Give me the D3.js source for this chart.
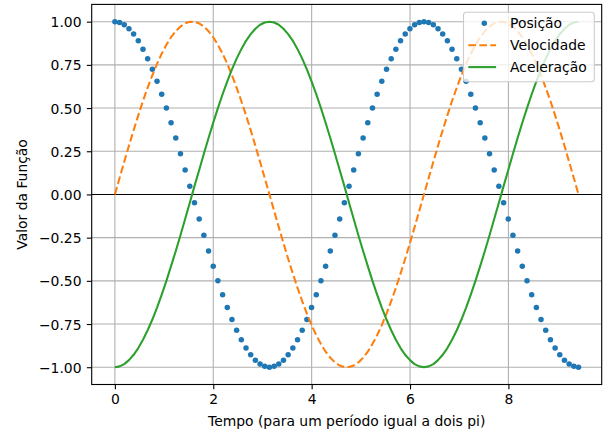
<!DOCTYPE html>
<html>
<head>
<meta charset="utf-8">
<script src="https://cdn.jsdelivr.net/npm/d3@7"></script>
<style>
  html, body { margin: 0; padding: 0; background: #fff; }
  svg { display: block; }
  text { font-family: "DejaVu Sans", sans-serif; fill: #000; }
</style>
</head>
<body>
<svg id="chart" width="610" height="432"></svg>
<script>
// Time samples over three half-periods (0 .. 3π), 100 points
const tempo = [
  0.000, 0.095, 0.190, 0.286, 0.381, 0.476, 0.571, 0.666, 0.762, 0.857,
  0.952, 1.047, 1.142, 1.238, 1.333, 1.428, 1.523, 1.618, 1.714, 1.809,
  1.904, 1.999, 2.094, 2.190, 2.285, 2.380, 2.475, 2.570, 2.666, 2.761,
  2.856, 2.951, 3.046, 3.142, 3.237, 3.332, 3.427, 3.522, 3.618, 3.713,
  3.808, 3.903, 3.998, 4.094, 4.189, 4.284, 4.379, 4.474, 4.570, 4.665,
  4.760, 4.855, 4.950, 5.046, 5.141, 5.236, 5.331, 5.426, 5.522, 5.617,
  5.712, 5.807, 5.902, 5.998, 6.093, 6.188, 6.283, 6.378, 6.474, 6.569,
  6.664, 6.759, 6.854, 6.950, 7.045, 7.140, 7.235, 7.330, 7.426, 7.521,
  7.616, 7.711, 7.806, 7.902, 7.997, 8.092, 8.187, 8.282, 8.378, 8.473,
  8.568, 8.663, 8.758, 8.854, 8.949, 9.044, 9.139, 9.234, 9.330, 9.425
];

// Position (drawn as dots)
const posicao = [
  1.000, 0.995, 0.982, 0.959, 0.928, 0.889, 0.841, 0.786, 0.724, 0.655,
  0.580, 0.500, 0.415, 0.327, 0.236, 0.142, 0.048, -0.048, -0.142, -0.236,
  -0.327, -0.415, -0.500, -0.580, -0.655, -0.724, -0.786, -0.841, -0.889, -0.928,
  -0.959, -0.982, -0.995, -1.000, -0.995, -0.982, -0.959, -0.928, -0.889, -0.841,
  -0.786, -0.724, -0.655, -0.580, -0.500, -0.415, -0.327, -0.236, -0.142, -0.048,
  0.048, 0.142, 0.236, 0.327, 0.415, 0.500, 0.580, 0.655, 0.724, 0.786,
  0.841, 0.889, 0.928, 0.959, 0.982, 0.995, 1.000, 0.995, 0.982, 0.959,
  0.928, 0.889, 0.841, 0.786, 0.724, 0.655, 0.580, 0.500, 0.415, 0.327,
  0.236, 0.142, 0.048, -0.048, -0.142, -0.236, -0.327, -0.415, -0.500, -0.580,
  -0.655, -0.724, -0.786, -0.841, -0.889, -0.928, -0.959, -0.982, -0.995, -1.000
];

// Velocity (dashed line)
const velocidade = [
  0.000, 0.095, 0.189, 0.282, 0.372, 0.458, 0.541, 0.618, 0.690, 0.756,
  0.815, 0.866, 0.910, 0.945, 0.972, 0.990, 0.999, 0.999, 0.990, 0.972,
  0.945, 0.910, 0.866, 0.815, 0.756, 0.690, 0.618, 0.541, 0.458, 0.372,
  0.282, 0.189, 0.095, 0.000, -0.095, -0.189, -0.282, -0.372, -0.458, -0.541,
  -0.618, -0.690, -0.756, -0.815, -0.866, -0.910, -0.945, -0.972, -0.990, -0.999,
  -0.999, -0.990, -0.972, -0.945, -0.910, -0.866, -0.815, -0.756, -0.690, -0.618,
  -0.541, -0.458, -0.372, -0.282, -0.189, -0.095, 0.000, 0.095, 0.189, 0.282,
  0.372, 0.458, 0.541, 0.618, 0.690, 0.756, 0.815, 0.866, 0.910, 0.945,
  0.972, 0.990, 0.999, 0.999, 0.990, 0.972, 0.945, 0.910, 0.866, 0.815,
  0.756, 0.690, 0.618, 0.541, 0.458, 0.372, 0.282, 0.189, 0.095, 0.000
];

// Acceleration (solid line)
const aceleracao = [
  -1.000, -0.995, -0.982, -0.959, -0.928, -0.889, -0.841, -0.786, -0.724, -0.655,
  -0.580, -0.500, -0.415, -0.327, -0.236, -0.142, -0.048, 0.048, 0.142, 0.236,
  0.327, 0.415, 0.500, 0.580, 0.655, 0.724, 0.786, 0.841, 0.889, 0.928,
  0.959, 0.982, 0.995, 1.000, 0.995, 0.982, 0.959, 0.928, 0.889, 0.841,
  0.786, 0.724, 0.655, 0.580, 0.500, 0.415, 0.327, 0.236, 0.142, 0.048,
  -0.048, -0.142, -0.236, -0.327, -0.415, -0.500, -0.580, -0.655, -0.724, -0.786,
  -0.841, -0.889, -0.928, -0.959, -0.982, -0.995, -1.000, -0.995, -0.982, -0.959,
  -0.928, -0.889, -0.841, -0.786, -0.724, -0.655, -0.580, -0.500, -0.415, -0.327,
  -0.236, -0.142, -0.048, 0.048, 0.142, 0.236, 0.327, 0.415, 0.500, 0.580,
  0.655, 0.724, 0.786, 0.841, 0.889, 0.928, 0.959, 0.982, 0.995, 1.000
];

const xTicks = [0, 2, 4, 6, 8];
const yTicks = [-1.00, -0.75, -0.50, -0.25, 0.00, 0.25, 0.50, 0.75, 1.00];
const seriesNames = ["Posição", "Velocidade", "Aceleração"];
const seriesColors = ["#1f77b4", "#ff7f0e", "#2ca02c"];
const xLabel = "Tempo (para um período igual a dois pi)";
const yLabel = "Valor da Função";

const W = 610, H = 432;
const m = { left: 91.7, right: 601.7, top: 4.4, bottom: 384.5 };
const FS = 13.9;

const svg = d3.select("#chart");

// 5% padding around data extent, like the usual plotting default
const tMin = d3.min(tempo), tMax = d3.max(tempo);
const padX = (tMax - tMin) * 0.05;
const x = d3.scaleLinear().domain([tMin - padX, tMax + padX]).range([m.left, m.right]);
const y = d3.scaleLinear().domain([-1.1, 1.1]).range([m.bottom, m.top]);

const fmtY = v => d3.format(".2f")(v).replace("-", "\u2212");

// clip for plot area
svg.append("defs").append("clipPath").attr("id", "plotclip")
  .append("rect").attr("x", m.left).attr("y", m.top)
  .attr("width", m.right - m.left).attr("height", m.bottom - m.top);

// grid
const grid = svg.append("g").attr("stroke", "#b0b0b0").attr("stroke-width", 1.1);
grid.selectAll("line.gx").data(xTicks).join("line")
  .attr("x1", d => x(d)).attr("x2", d => x(d))
  .attr("y1", m.top).attr("y2", m.bottom);
grid.selectAll("line.gy").data(yTicks).join("line")
  .attr("x1", m.left).attr("x2", m.right)
  .attr("y1", d => y(d)).attr("y2", d => y(d));

const plot = svg.append("g").attr("clip-path", "url(#plotclip)");

// zero reference line
plot.append("line")
  .attr("x1", m.left).attr("x2", m.right)
  .attr("y1", y(0)).attr("y2", y(0))
  .attr("stroke", "#000").attr("stroke-width", 1.1);

const line = d3.line().x((d, i) => x(tempo[i])).y(d => y(d));

// position dots
plot.append("g").selectAll("circle").data(posicao).join("circle")
  .attr("cx", (d, i) => x(tempo[i])).attr("cy", d => y(d))
  .attr("r", 2.75).attr("fill", seriesColors[0]);

// velocity
plot.append("path").datum(velocidade)
  .attr("d", line).attr("fill", "none")
  .attr("stroke", seriesColors[1]).attr("stroke-width", 2.08)
  .attr("stroke-dasharray", "7.7,3.33");

// acceleration
plot.append("path").datum(aceleracao)
  .attr("d", line).attr("fill", "none")
  .attr("stroke", seriesColors[2]).attr("stroke-width", 2.08)
  .attr("stroke-linejoin", "round");

// axes
const xAxis = svg.append("g").attr("transform", `translate(0,${m.bottom})`)
  .call(d3.axisBottom(x).tickValues(xTicks).tickSize(4.86).tickPadding(4.86).tickFormat(d3.format("d")));
const yAxis = svg.append("g").attr("transform", `translate(${m.left},0)`)
  .call(d3.axisLeft(y).tickValues(yTicks).tickSize(4.86).tickPadding(4.86).tickFormat(fmtY));

[xAxis, yAxis].forEach(a => {
  a.select(".domain").remove();
  a.selectAll(".tick line").attr("stroke", "#000").attr("stroke-width", 1.1);
  a.selectAll(".tick text").attr("font-size", FS).attr("fill", "#000")
    .style("font-family", "DejaVu Sans");
});
xAxis.selectAll(".tick text").attr("dy", "0.71em").attr("y", 10.0);
yAxis.selectAll(".tick text").attr("dy", "0.36em").attr("x", -10.2);

// spines
svg.append("rect")
  .attr("x", m.left).attr("y", m.top)
  .attr("width", m.right - m.left).attr("height", m.bottom - m.top)
  .attr("fill", "none").attr("stroke", "#000").attr("stroke-width", 1.1);

// axis labels
svg.append("text")
  .attr("x", (m.left + m.right) / 2).attr("y", 426)
  .attr("text-anchor", "middle").attr("font-size", FS)
  .text(xLabel);
svg.append("text")
  .attr("transform", `translate(27.3,${(m.top + m.bottom) / 2}) rotate(-90)`)
  .attr("text-anchor", "middle").attr("font-size", FS)
  .text(yLabel);

// legend
const lg = svg.append("g");
lg.append("rect")
  .attr("x", 463.5).attr("y", 12.3).attr("width", 130.8).attr("height", 69.4)
  .attr("rx", 3).attr("ry", 3)
  .attr("fill", "#fff").attr("fill-opacity", 0.8)
  .attr("stroke", "#cccccc").attr("stroke-width", 1.1);

const rows = lg.selectAll("g.row").data(seriesNames).join("g")
  .attr("transform", (d, i) => `translate(0,${23.3 + i * 21.9})`);
rows.append("text")
  .attr("x", 510).attr("dy", "0.36em").attr("font-size", FS)
  .text(d => d);
rows.filter((d, i) => i === 0).append("circle")
  .attr("cx", 484.3).attr("cy", 0).attr("r", 2.75).attr("fill", seriesColors[0]);
rows.filter((d, i) => i === 1).append("line")
  .attr("x1", 468.3).attr("x2", 496.1).attr("y1", 0).attr("y2", 0)
  .attr("stroke", seriesColors[1]).attr("stroke-width", 2.08)
  .attr("stroke-dasharray", "7.7,3.33");
rows.filter((d, i) => i === 2).append("line")
  .attr("x1", 468.3).attr("x2", 496.1).attr("y1", 0).attr("y2", 0)
  .attr("stroke", seriesColors[2]).attr("stroke-width", 2.08);
</script>
</body>
</html>
